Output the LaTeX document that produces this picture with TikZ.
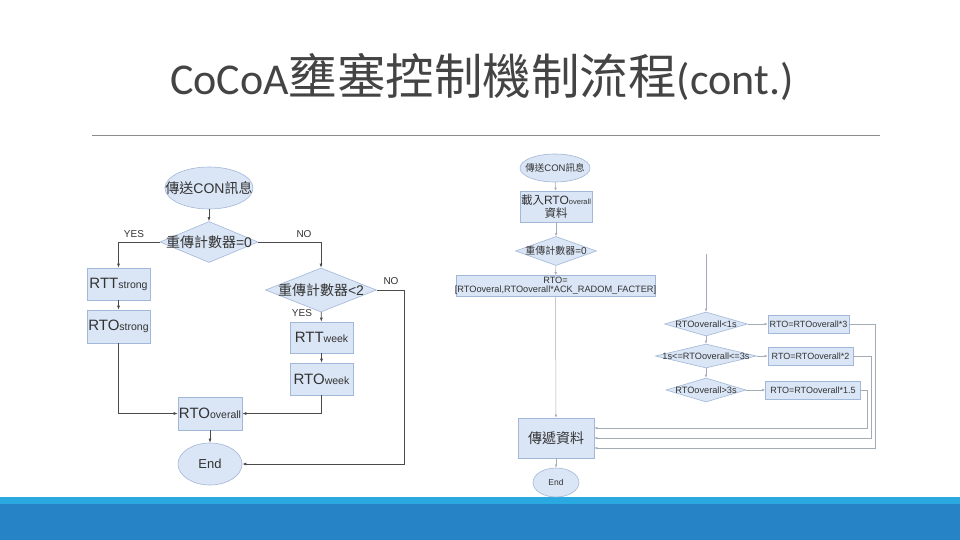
\documentclass[tikz,border=0pt]{standalone}
\usepackage{fontspec}
\setmainfont{Liberation Sans}
\newfontfamily\cjk{Noto Sans CJK TC}
\newfontfamily\titlefont{Carlito}
\usetikzlibrary{shapes.geometric,arrows.meta}
\definecolor{boxfill}{HTML}{DAE5F5}
\definecolor{boxline}{HTML}{A2B8D8}
\definecolor{lineL}{HTML}{4A4A4A}
\definecolor{lineR}{HTML}{A3ACB6}
\definecolor{txt}{HTML}{333333}
\definecolor{titlegray}{HTML}{444444}
\definecolor{rulegray}{HTML}{8C8C8C}
\definecolor{bandlight}{HTML}{29A9DF}
\definecolor{banddark}{HTML}{2683C6}
\newcommand{\fs}[1]{\fontsize{#1}{#1}\selectfont}
\newcommand{\ctr}[1]{\makebox[0pt]{#1}}
\begin{document}
\begin{tikzpicture}[x=1pt,y=-1pt,
  shp/.style={draw=boxline, fill=boxfill, line width=0.6pt, inner sep=0pt, text=txt},
  box/.style={shp, rectangle},
  ell/.style={shp, ellipse},
  dia/.style={shp, diamond},
  lbl/.style={inner sep=0pt, text=txt, font=\fs{10}},
  larrow/.style={draw=lineL, line width=0.6pt, -{Latex[length=4pt,width=3pt]}},
  rarrow/.style={draw=lineR, line width=0.5pt, -{Latex[length=3pt,width=2.4pt]}}]
\fill[white] (0,0) rectangle (960,540);
\useasboundingbox (0,0) rectangle (960,540);
% title
\node[anchor=base west, inner sep=0pt, text=titlegray] (title) at (170,95)
  {\titlefont\fs{44}CoCoA{\cjk\fs{48.5}壅塞控制機制流程}(cont.)};
\draw[rulegray, line width=0.8pt] (92,135) -- (880,135);
% bottom bands
\fill[bandlight] (0,497) rectangle (960,504);
\fill[banddark] (0,504) rectangle (960,540);

% ---------- left flowchart ----------
\node[ell, minimum width=88, minimum height=42] (L1) at (209,188) {\ctr{\fs{14}{\cjk 傳送}CON{\cjk 訊息}}};
\node[dia, minimum width=98, minimum height=41] (L2) at (209,242) {\ctr{\fs{14}{\cjk 重傳計數器}=0}};
\node[box, minimum width=63, minimum height=32] (L3) at (118.5,284) {\fs{15}RTT\fs{10.5}strong};
\node[box, minimum width=63, minimum height=33] (L4) at (118.5,326.5) {\fs{15}RTO\fs{10.5}strong};
\node[dia, minimum width=111, minimum height=44] (L5) at (321,290) {\ctr{\fs{14}{\cjk 重傳計數器}<2}};
\node[box, minimum width=63, minimum height=31] (L6) at (321.5,337.5) {\fs{15}RTT\fs{10.5}week};
\node[box, minimum width=63, minimum height=32] (L7) at (321.5,379) {\fs{15}RTO\fs{10.5}week};
\node[box, minimum width=64, minimum height=33] (L8) at (210,413.5) {\ctr{\fs{15}RTO\fs{10.5}overall}};
\node[ell, minimum width=64, minimum height=42] (L9) at (210,464) {\fs{13}End};
\coordinate (Lc) at (404,290);

\draw[larrow] (L1) -- (L2);
\draw[larrow] (L2.west) -| (L3.north);
\draw[larrow] (L2.east) -| (L5.north);
\draw[larrow] (L3) -- (L4);
\draw[larrow] (L5) -- (L6);
\draw[larrow] (L6) -- (L7);
\draw[larrow] (L4.south) |- (L8.west);
\draw[larrow] (L7.south) |- (L8.east);
\draw[larrow] (L8) -- (L9);
\draw[larrow] (L5.east) -- (Lc) |- (L9.east);
\node[lbl] (yes1) at (134,234) {YES};
\node[lbl] (no1) at (304,234) {NO};
\node[lbl] (no2) at (391,281) {NO};
\node[lbl] (yes2) at (302,313) {YES};

% ---------- right flowchart ----------
\node[ell, minimum width=70, minimum height=28] (R1) at (555,168) {\ctr{\fs{9.5}{\cjk 傳送}CON{\cjk 訊息}}};
\node[box, minimum width=72, minimum height=31, align=center] (R2) at (556,206.5)
  {\ctr{{\fs{11.5}\cjk 載入}{\fs{12}RTO}{\fs{7.5}overall}}\\[1.5pt]{\fs{11.5}\cjk 資料}};
\node[dia, minimum width=81, minimum height=29] (R3) at (556,251) {\ctr{\fs{10}{\cjk 重傳計數器}=0}};
\node[box, minimum width=199, minimum height=21, align=center, font=\fs{9.2}] (R4) at (555.5,286)
  {RTO=\\[0pt]\ctr{{[}RTOoveral,RTOoverall*ACK\_RADOM\_FACTER{]}}};
\coordinate (Rtop) at (706,254);
\node[dia, minimum width=83, minimum height=24] (R5) at (706,324) {\ctr{\fs{9.2}RTOoverall<1s}};
\node[box, minimum width=81, minimum height=18] (R6) at (808.5,324) {\ctr{\fs{9}RTO=RTOoverall*3}};
\node[dia, minimum width=101, minimum height=24] (R7) at (706,356) {\ctr{\fs{9.2}1s<=RTOoverall<=3s}};
\node[box, minimum width=85, minimum height=18] (R8) at (810.5,356) {\ctr{\fs{9}RTO=RTOoverall*2}};
\node[dia, minimum width=80, minimum height=24] (R9) at (706,390) {\ctr{\fs{9.2}RTOoverall>3s}};
\node[box, minimum width=95, minimum height=18] (R10) at (813,390) {\ctr{\fs{9}RTO=RTOoverall*1.5}};
\node[box, minimum width=76, minimum height=40] (R11) at (556,438) {\fs{14}\cjk 傳遞資料};
\node[ell, minimum width=46, minimum height=29] (R12) at (556,482.5) {\fs{8.5}End};
\coordinate (c1) at (867,428);
\coordinate (c2) at (871,438);
\coordinate (c3) at (875,448);

\draw[rarrow] (R1) -- (R2);
\draw[rarrow] (R2) -- (R3);
\draw[rarrow] (R3) -- (R4);
\draw[rarrow] (R4) -- (R11);
\draw[rarrow] (Rtop) -- (R5);
\draw[rarrow] (R5) -- (R6);
\draw[rarrow] (R5) -- (R7);
\draw[rarrow] (R7) -- (R8);
\draw[rarrow] (R7) -- (R9);
\draw[rarrow] (R9) -- (R10);
\draw[rarrow] (R10.east) -| (c1) -- (c1 -| R11.east);
\draw[rarrow] (R8.east) -| (c2) -- (c2 -| R11.east);
\draw[rarrow] (R6.east) -| (c3) -- (c3 -| R11.east);
\draw[rarrow] (R11) -- (R12);
\end{tikzpicture}
\end{document}
